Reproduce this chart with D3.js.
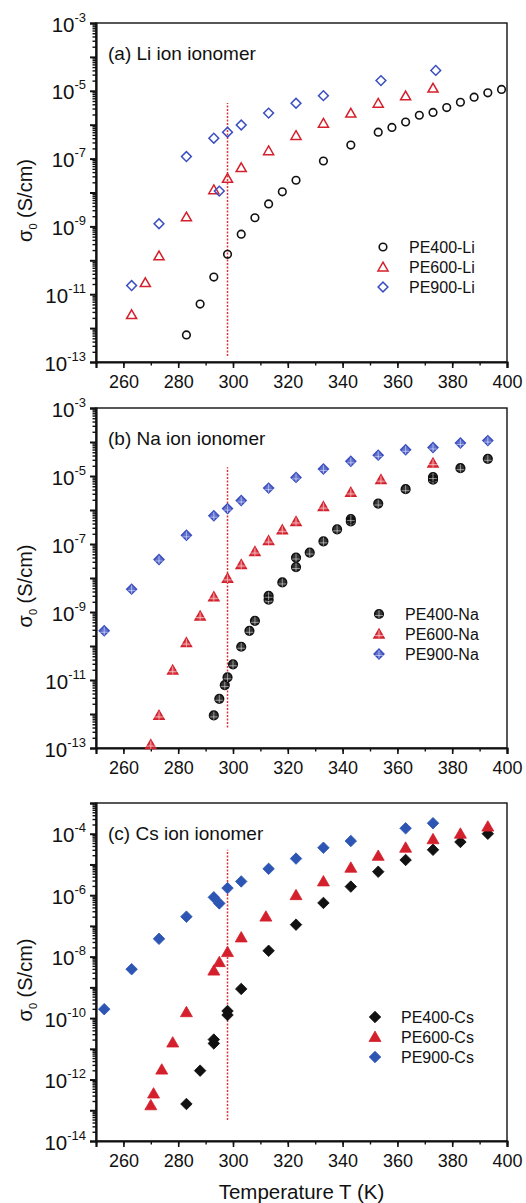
<!DOCTYPE html>
<html>
<head>
<meta charset="utf-8">
<script src="https://cdn.jsdelivr.net/npm/d3@7"></script>
<style>
  body { margin: 0; background: #fff; }
  svg { display: block; }
  text { font-family: "Liberation Sans", Arial, sans-serif; fill: #111; }
</style>
</head>
<body>
<svg id="chart" width="526" height="1203"></svg>
<script>
// ---- data (T in K, sigma_0 in S/cm) ----
const tLi400 = [283, 288, 293, 298, 303, 308, 313, 318, 323, 333, 343, 353, 358, 363, 368, 373, 378, 383, 388, 393, 398];
const sLi400 = [6.3e-13, 5.1e-12, 3.2e-11, 1.5e-10, 5.9e-10, 1.8e-9, 4.6e-9, 1.05e-8, 2.3e-8, 8.5e-8, 2.5e-7, 6.0e-7, 8.3e-7, 1.2e-6, 1.9e-6, 2.3e-6, 3.2e-6, 4.6e-6, 6.5e-6, 8.7e-6, 1.1e-5];
const tLi600 = [263, 268, 273, 283, 293, 298, 303, 313, 323, 333, 343, 353, 363, 373];
const sLi600 = [2.5e-12, 2.2e-11, 1.35e-10, 1.9e-9, 1.2e-8, 2.6e-8, 5.4e-8, 1.7e-7, 4.8e-7, 1.1e-6, 2.2e-6, 4.3e-6, 7.1e-6, 1.2e-5];
const tLi900 = [263, 273, 283, 293, 295, 298, 303, 313, 323, 333, 354, 374];
const sLi900 = [1.8e-11, 1.2e-9, 1.15e-7, 4.0e-7, 1.1e-8, 6.0e-7, 9.8e-7, 2.2e-6, 4.3e-6, 7.2e-6, 2.0e-5, 4.0e-5];

const tNa400 = [293, 295, 297, 298, 300, 303, 306, 308, 313, 313, 318, 323, 323, 328, 333, 338, 343, 343, 353, 363, 373, 373, 383, 393];
const sNa400 = [9.1e-13, 2.8e-12, 7.1e-12, 1.2e-11, 2.9e-11, 9.5e-11, 2.8e-10, 5.5e-10, 2.3e-9, 3.0e-9, 7.4e-9, 2.1e-8, 4.0e-8, 5.6e-8, 1.2e-7, 2.7e-7, 4.6e-7, 5.4e-7, 1.55e-6, 4.1e-6, 7.8e-6, 9.3e-6, 1.7e-5, 3.2e-5];
const tNa600 = [270, 273, 278, 283, 288, 293, 298, 303, 308, 313, 318, 323, 333, 343, 354, 373];
const sNa600 = [1.26e-13, 9.1e-13, 1.95e-11, 1.26e-10, 7.6e-10, 2.8e-9, 9.8e-9, 2.5e-8, 6.0e-8, 1.26e-7, 2.6e-7, 4.6e-7, 1.26e-6, 3.3e-6, 7.8e-6, 2.4e-5];
const tNa900 = [253, 263, 273, 283, 293, 298, 303, 313, 323, 333, 343, 353, 363, 373, 383, 393];
const sNa900 = [2.8e-10, 4.7e-9, 3.5e-8, 1.8e-7, 6.8e-7, 1.1e-6, 1.9e-6, 4.4e-6, 9.1e-6, 1.6e-5, 2.7e-5, 4.1e-5, 5.9e-5, 6.9e-5, 9.3e-5, 1.1e-4];

const tCs400 = [283, 288, 293, 293, 298, 298, 303, 313, 323, 333, 343, 353, 363, 373, 383, 393];
const sCs400 = [1.6e-13, 1.95e-12, 1.5e-11, 2.0e-11, 1.26e-10, 1.7e-10, 8.9e-10, 1.55e-8, 1.1e-7, 5.6e-7, 1.9e-6, 5.8e-6, 1.4e-5, 3.0e-5, 5.4e-5, 1.0e-4];
const tCs600 = [270, 271, 274, 278, 283, 293, 295, 298, 303, 312, 323, 333, 343, 353, 363, 373, 383, 393];
const sCs600 = [1.45e-13, 3.5e-13, 2.1e-12, 1.6e-11, 1.55e-10, 3.5e-9, 6.6e-9, 1.4e-8, 4.2e-8, 2.0e-7, 1.0e-6, 2.8e-6, 7.8e-6, 1.9e-5, 3.5e-5, 6.6e-5, 1.0e-4, 1.7e-4];
const tCs900 = [253, 263, 273, 283, 293, 295, 298, 303, 313, 323, 333, 343, 363, 373];
const sCs900 = [1.95e-10, 3.9e-9, 3.8e-8, 2.0e-7, 8.5e-7, 5.4e-7, 1.7e-6, 2.8e-6, 7.2e-6, 1.55e-5, 3.5e-5, 5.8e-5, 1.5e-4, 2.2e-4];

// room temperature marker (dotted red line) and its vertical extent per panel
const roomT = 298;
const roomLineLi = [1.5e-13, 4.4e-6];
const roomLineNa = [4.0e-13, 1.8e-5];
const roomLineCs = [4.8e-14, 3.0e-5];

const xTicks = [260, 280, 300, 320, 340, 360, 380, 400];

const black = '#111', red = '#d4202c', blue = '#3b4fc0', blueFill = '#2d55b4';

const panels = [
  { top: 23, bottom: 362, yDomain: [1e-13, 1e-3], title: '(a) Li ion ionomer', room: roomLineLi,
    legend: [383, 247],
    series: [
      { name: 'PE400-Li', t: tLi400, s: sLi400, color: black, shape: 'circle', style: 'open' },
      { name: 'PE600-Li', t: tLi600, s: sLi600, color: red, shape: 'triangle', style: 'open' },
      { name: 'PE900-Li', t: tLi900, s: sLi900, color: blue, shape: 'diamond', style: 'open' }
    ] },
  { top: 408, bottom: 748, yDomain: [1e-13, 1e-3], title: '(b) Na ion ionomer', room: roomLineNa,
    legend: [379, 614],
    series: [
      { name: 'PE400-Na', t: tNa400, s: sNa400, color: black, shape: 'circle', style: 'cross' },
      { name: 'PE600-Na', t: tNa600, s: sNa600, color: red, shape: 'triangle', style: 'cross' },
      { name: 'PE900-Na', t: tNa900, s: sNa900, color: blue, shape: 'diamond', style: 'cross' }
    ] },
  { top: 803, bottom: 1141, yDomain: [1e-14, 1e-3], title: '(c) Cs ion ionomer', room: roomLineCs,
    legend: [375, 1017],
    series: [
      { name: 'PE400-Cs', t: tCs400, s: sCs400, color: black, shape: 'diamond', style: 'filled' },
      { name: 'PE600-Cs', t: tCs600, s: sCs600, color: red, shape: 'triangle', style: 'filled' },
      { name: 'PE900-Cs', t: tCs900, s: sCs900, color: blueFill, shape: 'diamond', style: 'filled' }
    ] }
];

const left = 96, right = 507;
const svg = d3.select('#chart');

const x = d3.scaleLinear().domain([250, 400]).range([left, right]);

function drawMarker(g, shape, style, color) {
  const big = style === 'filled';
  if (shape === 'circle') {
    g.append('circle').attr('r', style === 'open' ? 3.8 : 4.3)
      .attr('fill', style === 'open' ? 'none' : color).attr('fill-opacity', style === 'cross' ? 0.85 : 1)
      .attr('stroke', color).attr('stroke-width', 1.6);
  } else if (shape === 'triangle') {
    g.append('path').attr('d', d3.symbol(d3.symbolTriangle, big ? 62 : 44)())
      .attr('transform', 'translate(0,1)')
      .attr('fill', style === 'open' ? 'none' : color).attr('fill-opacity', style === 'cross' ? 0.8 : 1)
      .attr('stroke', color).attr('stroke-width', style === 'filled' ? 0.8 : 1.5);
  } else {
    g.append('path').attr('d', d3.symbol(d3.symbolSquare, big ? 66 : 48)())
      .attr('transform', 'rotate(45)')
      .attr('fill', style === 'open' ? 'none' : color).attr('fill-opacity', style === 'cross' ? 0.8 : 1)
      .attr('stroke', color).attr('stroke-width', style === 'filled' ? 0.8 : 1.5);
  }
  if (style === 'cross') {
    const w = shape === 'triangle' ? 6 : 4;
    g.append('path').attr('d', `M${-w},1.5H${w}M0,-4V4.5`)
      .attr('stroke', '#fff').attr('stroke-opacity', 0.55).attr('stroke-width', 0.9);
  }
}

panels.forEach(p => {
  const y = d3.scaleLog().domain(p.yDomain).range([p.bottom, p.top]);
  const g = svg.append('g');

  // frame
  g.append('rect').attr('x', left).attr('y', p.top)
    .attr('width', right - left).attr('height', p.bottom - p.top)
    .attr('fill', 'none').attr('stroke', '#111').attr('stroke-width', 1.4);

  // x axis: major + minor ticks
  const xMinor = d3.range(250, 401, 10);
  g.append('g').attr('transform', `translate(0,${p.bottom})`)
    .call(d3.axisBottom(x).tickValues(xMinor).tickSize(3.5).tickFormat(''))
    .call(a => a.select('.domain').remove())
    .selectAll('line').attr('stroke', '#111').attr('stroke-width', 1.4);
  g.append('g').attr('transform', `translate(0,${p.bottom})`)
    .call(d3.axisBottom(x).tickValues(xTicks).tickSize(6).tickPadding(7))
    .call(a => a.select('.domain').attr('stroke', '#111').attr('stroke-width', 2.2))
    .call(a => a.selectAll('line').attr('stroke', '#111').attr('stroke-width', 1.6))
    .call(a => a.selectAll('text').attr('font-size', 18).attr('fill', '#111')
      .style('font-family', '"Liberation Sans", Arial, sans-serif'));

  // y axis: decade + minor ticks
  const eMin = Math.round(Math.log10(p.yDomain[0])), eMax = Math.round(Math.log10(p.yDomain[1]));
  const decades = d3.range(eMin, eMax + 1);
  const minor = [];
  decades.slice(0, -1).forEach(e => { for (let k = 2; k <= 9; k++) minor.push(k * Math.pow(10, e)); });
  g.append('g').attr('transform', `translate(${left},0)`)
    .call(d3.axisLeft(y).tickValues(minor).tickSize(3.5).tickFormat(''))
    .call(a => a.select('.domain').remove())
    .selectAll('line').attr('stroke', '#111').attr('stroke-width', 1.4);
  g.append('g').attr('transform', `translate(${left},0)`)
    .call(d3.axisLeft(y).tickValues(decades.map(e => Math.pow(10, e))).tickSize(6).tickFormat(''))
    .call(a => a.select('.domain').attr('stroke', '#111').attr('stroke-width', 2.2))
    .selectAll('line').attr('stroke', '#111').attr('stroke-width', 2);

  decades.filter(e => (e - eMin) % 2 === 0).forEach(e => {
    const t = g.append('text').attr('x', left - 10).attr('y', y(Math.pow(10, e)) + 8.5)
      .attr('text-anchor', 'end').attr('font-size', 20.5);
    t.append('tspan').text('10');
    t.append('tspan').attr('dy', -10).attr('font-size', 13).text(e);
  });

  // y label
  const yl = g.append('text')
    .attr('transform', `translate(32,${(p.top + p.bottom) / 2 + 8}) rotate(-90)`)
    .attr('text-anchor', 'middle').attr('font-size', 20);
  yl.append('tspan').text('σ');
  yl.append('tspan').attr('dy', 5).attr('font-size', 11).text('0');
  yl.append('tspan').attr('dy', -5).text(' (S/cm)');

  // panel title
  g.append('text').attr('x', 108).attr('y', p.top + 37).attr('font-size', 19).text(p.title);

  // room temperature line
  g.append('line').attr('x1', x(roomT)).attr('x2', x(roomT))
    .attr('y1', y(p.room[0])).attr('y2', y(p.room[1]))
    .attr('stroke', '#e03434').attr('stroke-width', 1.5).attr('stroke-dasharray', '2,1.5');

  // data
  p.series.forEach(s => {
    s.t.forEach((tv, i) => {
      const m = g.append('g').attr('transform', `translate(${x(tv)},${y(s.s[i])})`);
      drawMarker(m, s.shape, s.style, s.color);
    });
  });

  // legend
  p.series.forEach((s, i) => {
    const ly = p.legend[1] + i * 20;
    const m = g.append('g').attr('transform', `translate(${p.legend[0]},${ly})`);
    drawMarker(m, s.shape, s.style, s.color);
    g.append('text').attr('x', p.legend[0] + 26).attr('y', ly + 6).attr('font-size', 16).text(s.name);
  });
});

svg.append('text').attr('x', (left + right) / 2).attr('y', 1199)
  .attr('text-anchor', 'middle').attr('font-size', 20.5).text('Temperature T (K)');
</script>
</body>
</html>
